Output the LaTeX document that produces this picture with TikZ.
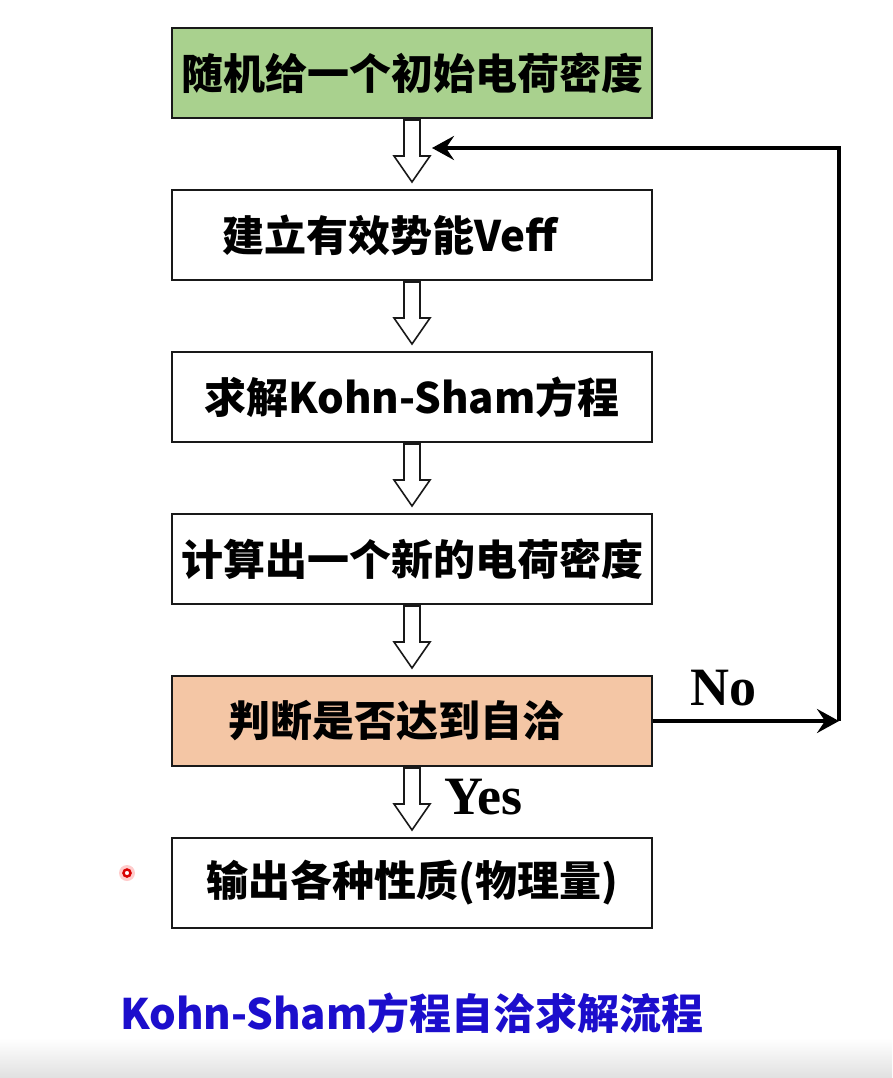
\documentclass[tikz,border=0pt]{standalone}
\usepackage{fontspec}
\usepackage{tikz}
\usetikzlibrary{calc}
\usetikzlibrary{positioning,arrows.meta}
\tikzset{>=Stealth}
\newfontfamily\cjk{Noto Sans CJK SC}
\newfontfamily\tnr{Liberation Serif}
\definecolor{mygreen}{HTML}{A9D18E}
\definecolor{myorange}{HTML}{F4C6A5}
\definecolor{myblue}{HTML}{1C0ECC}
\tikzset{
	box/.style={draw=black!90,line width=2pt,minimum width=480pt,minimum height=90pt,inner sep=0pt,font=\cjk\bfseries\fontsize{42}{48}\selectfont},
	hollow/.style={draw=black!90,line width=1.6pt,fill=white,line join=miter},
	loopline/.style={line width=4pt,-{Stealth[length=22pt,width=24pt,inset=8pt]}},
	yesno/.style={font=\tnr\bfseries\fontsize{54}{58}\selectfont,inner sep=0pt}
}
\newcommand{\hollowdown}[2]{%
	\draw[hollow] ($(#1.south)+(-8,1)$) -- ($(#2.north)+(-8,-33)$) -- ($(#2.north)+(-18,-33)$) -- ($(#2.north)+(0,-7)$) -- ($(#2.north)+(18,-33)$) -- ($(#2.north)+(8,-33)$) -- ($(#1.south)+(8,1)$) -- cycle;}

\begin{document}
\begin{tikzpicture}[x=1pt,y=-1pt]
		\useasboundingbox (0,0) rectangle (892,1078);
		\shade[top color=white,bottom color=black!12] (0,1038) rectangle (892,1078);

		\node[box,fill=mygreen] (rho0) at (412,73) {随机给一个初始电荷密度};
		\node[box,below=70pt of rho0] (veff) {建立有效势能Veff\hspace*{44pt}};
		\node[box,below=70pt of veff] (ks) {求解Kohn-Sham方程};
		\node[box,below=70pt of ks] (rho) {计算出一个新的电荷密度};
		\node[box,fill=myorange,below=70pt of rho] (judge) {判断是否达到自洽\hspace*{32pt}};
		\node[box,below=70pt of judge] (output) {输出各种性质(物理量)};

		\hollowdown{rho0}{veff}
		\hollowdown{veff}{ks}
		\hollowdown{ks}{rho}
		\hollowdown{rho}{judge}
		\hollowdown{judge}{output}
		\path (judge.south) -- (output.north) node[midway,right=32pt,yshift=5pt,yesno] (yes) {Yes};

		\coordinate (turn) at ($(judge.east)+(186,0)$);
		\coordinate (back) at ($(rho0.south)+(20,29)$);
		\draw[loopline] (judge.east) -- (turn) node[pos=0.38,above=13pt,yesno] (no) {No};
		\draw[loopline] (turn) |- (back);

		\fill[red!20] (127,873) circle (8pt);
		\draw[red!85!black,line width=2.5pt,fill=white] (127,873) circle (3.5pt);

		\node[below=64pt of output,inner sep=0pt,text=myblue,font=\cjk\bfseries\fontsize{42}{48}\selectfont] (title) {Kohn-Sham方程自洽求解流程};
	\end{tikzpicture}
\end{document}
